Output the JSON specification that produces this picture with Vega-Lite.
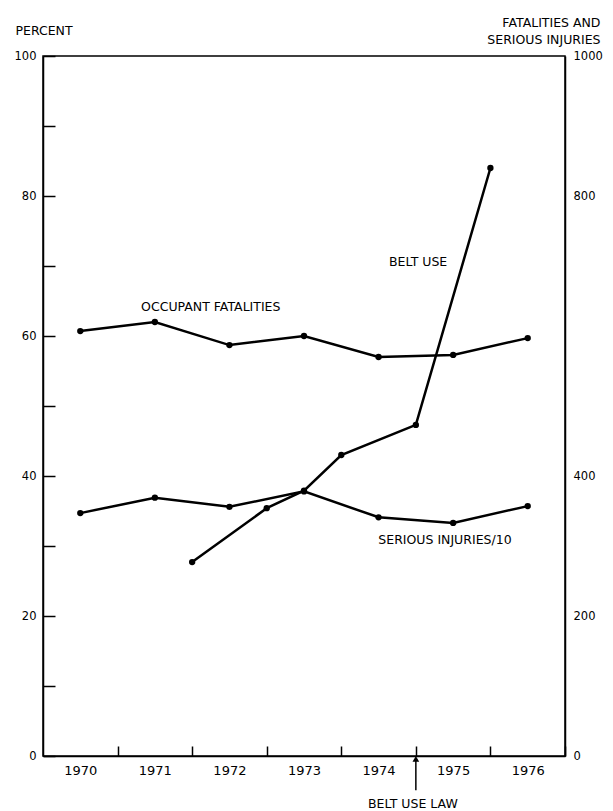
{
  "$schema": "https://vega.github.io/schema/vega-lite/v6.json",
  "width": 522,
  "height": 700,
  "autosize": {"type": "none"},
  "padding": {"left": 43, "top": 56, "right": 48, "bottom": 55},
  "background": "white",
  "config": {
    "view": {"stroke": "black", "strokeWidth": 1.5},
    "font": "DejaVu Sans",
    "axis": {
      "domainColor": "black", "domainWidth": 1.5,
      "tickColor": "black", "tickWidth": 1.5,
      "labelColor": "black", "titleColor": "black",
      "grid": false,
      "labelFont": "DejaVu Sans", "titleFont": "DejaVu Sans",
      "titleFontWeight": "normal"
    }
  },
  "datasets": {
    "belt": [
      {"year": 1972.0, "pct": 27.7},
      {"year": 1973.0, "pct": 35.4},
      {"year": 1973.5, "pct": 37.9},
      {"year": 1974.0, "pct": 43.0},
      {"year": 1975.0, "pct": 47.3},
      {"year": 1976.0, "pct": 84.0}
    ],
    "fat": [
      {"series": "Occupant fatalities", "year": 1970.5, "val": 607},
      {"series": "Occupant fatalities", "year": 1971.5, "val": 620},
      {"series": "Occupant fatalities", "year": 1972.5, "val": 587},
      {"series": "Occupant fatalities", "year": 1973.5, "val": 600},
      {"series": "Occupant fatalities", "year": 1974.5, "val": 570},
      {"series": "Occupant fatalities", "year": 1975.5, "val": 573},
      {"series": "Occupant fatalities", "year": 1976.5, "val": 597},
      {"series": "Serious injuries/10", "year": 1970.5, "val": 347},
      {"series": "Serious injuries/10", "year": 1971.5, "val": 369},
      {"series": "Serious injuries/10", "year": 1972.5, "val": 356},
      {"series": "Serious injuries/10", "year": 1973.5, "val": 378},
      {"series": "Serious injuries/10", "year": 1974.5, "val": 341},
      {"series": "Serious injuries/10", "year": 1975.5, "val": 333},
      {"series": "Serious injuries/10", "year": 1976.5, "val": 357}
    ],
    "notes": [
      {"label": "OCCUPANT FATALITIES", "year": 1972.25, "pct": 64.1},
      {"label": "BELT USE", "year": 1975.03, "pct": 70.6},
      {"label": "SERIOUS INJURIES/10", "year": 1975.39, "pct": 30.9},
      {"label": "BELT USE LAW", "year": 1974.96, "pct": -6.9}
    ],
    "arrow": [
      {"year": 1975.0, "pct": -4.9, "pct2": -0.4}
    ]
  },
  "encoding": {
    "x": {
      "field": "year", "type": "quantitative",
      "scale": {"domain": [1970, 1977], "nice": false, "zero": false},
      "axis": {
        "title": null,
        "values": [1971, 1972, 1973, 1974, 1975, 1976, 1977],
        "labelExpr": "'' + (datum.value - 1)",
        "labelOffset": -37.3,
        "labelFlush": false,
        "labelOverlap": false,
        "tickSize": -10,
        "labelPadding": 18,
        "labelFontSize": 13
      }
    }
  },
  "layer": [
    {
      "encoding": {
        "y": {
          "field": "pct", "type": "quantitative",
          "scale": {"domain": [0, 100], "nice": false},
          "axis": {
            "orient": "left",
            "values": [0, 10, 20, 30, 40, 50, 60, 70, 80, 90, 100],
            "labelExpr": "datum.value % 20 == 0 ? datum.label : ''",
            "tickSize": -12,
            "labelPadding": 19,
            "labelFontSize": 11.5,
            "title": "PERCENT",
            "titleAngle": 0,
            "titleAlign": "left",
            "titleBaseline": "middle",
            "titleX": -28,
            "titleY": -26,
            "titleFontSize": 12.5
          }
        }
      },
      "layer": [
        {
          "data": {"name": "belt"},
          "mark": {"type": "line", "color": "black", "strokeWidth": 2.5}
        },
        {
          "data": {"name": "belt"},
          "mark": {"type": "point", "filled": true, "color": "black", "size": 40, "opacity": 1}
        },
        {
          "data": {"name": "notes"},
          "mark": {"type": "text", "color": "black", "fontSize": 12.5, "align": "center", "baseline": "middle"},
          "encoding": {"text": {"field": "label"}}
        },
        {
          "data": {"name": "arrow"},
          "mark": {"type": "rule", "color": "black", "strokeWidth": 1.5},
          "encoding": {"y2": {"field": "pct2"}}
        },
        {
          "data": {"name": "arrow"},
          "mark": {"type": "point", "shape": "triangle-up", "filled": true, "color": "black", "size": 45, "opacity": 1},
          "encoding": {"y": {"field": "pct2", "type": "quantitative"}}
        }
      ]
    },
    {
      "data": {"name": "fat"},
      "encoding": {
        "y": {
          "field": "val", "type": "quantitative",
          "scale": {"domain": [0, 1000], "nice": false},
          "axis": {
            "orient": "right",
            "values": [0, 200, 400, 800, 1000],
            "format": "d",
            "ticks": false,
            "labelPadding": 8,
            "labelFontSize": 11.5,
            "title": ["FATALITIES AND", "SERIOUS INJURIES"],
            "titleAngle": 0,
            "titleAlign": "right",
            "titleBaseline": "middle",
            "titleX": 35,
            "titleY": -33.5,
            "titleLineHeight": 17,
            "titleFontSize": 12.5
          }
        },
        "detail": {"field": "series"}
      },
      "layer": [
        {"mark": {"type": "line", "color": "black", "strokeWidth": 2.5}},
        {"mark": {"type": "point", "filled": true, "color": "black", "size": 40, "opacity": 1}}
      ]
    }
  ],
  "resolve": {"scale": {"y": "independent"}}
}
